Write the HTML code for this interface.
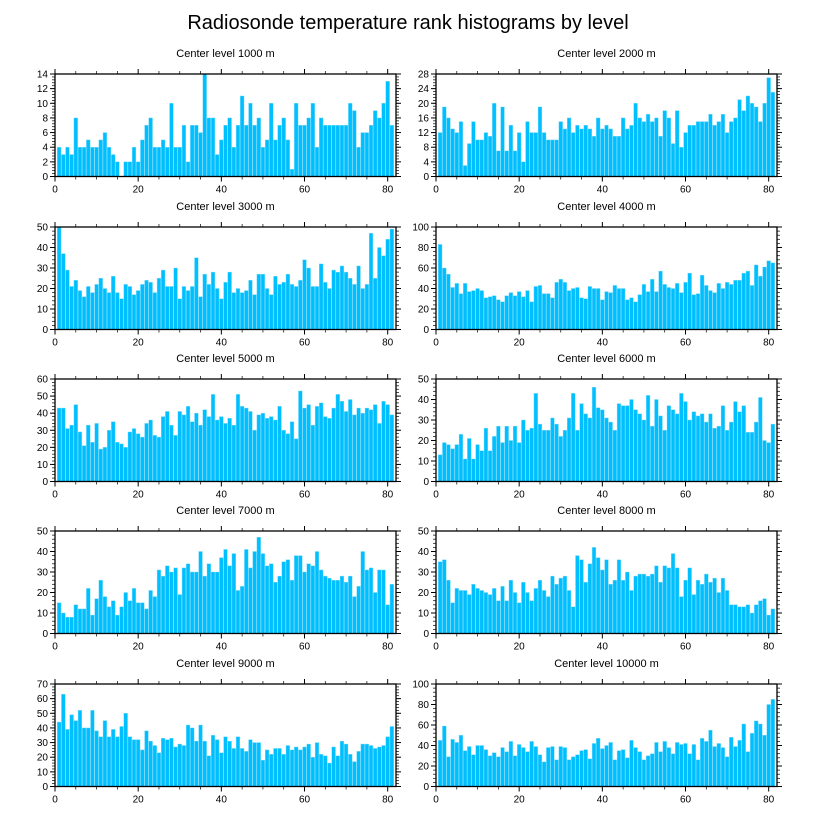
<!DOCTYPE html>
<html><head><meta charset="utf-8"><style>
html,body{margin:0;padding:0;background:#fff;}
svg{display:block;font-family:"Liberation Sans",Arial,sans-serif;}
</style></head><body>
<svg id="c" width="816" height="824" viewBox="0 0 816 824">
<text x="408" y="29" text-anchor="middle" font-size="20">Radiosonde temperature rank histograms by level</text>
</svg>
<script>
const levels = ["1000","2000","3000","4000","5000","6000","7000","8000","9000","10000"];
const yMaxes = [14,28,50,100,60,50,50,50,70,100];
const ySteps = [2,4,10,20,10,10,10,10,10,20];
const xTicks = [0,20,40,60,80];
const v1000 = [4,3,4,3,8,4,4,5,4,4,5,6,4,3,2,0,2,2,4,2,5,7,8,4,4,5,4,10,4,4,7,2,7,7,6,14,8,8,3,5,7,8,4,7,11,7,10,7,8,4,5,10,5,7,8,5,1,10,7,7,8,10,4,8,7,7,7,7,7,7,10,9,4,6,6,7,9,8,10,13,7];
const v2000 = [12,19,16,13,12,15,3,9,15,10,10,12,11,20,7,19,7,14,7,12,4,15,12,12,19,12,10,10,10,15,13,16,12,14,13,14,13,11,16,13,14,13,11,11,16,13,14,20,16,15,17,15,16,11,18,16,9,18,8,12,14,14,15,15,15,17,14,15,17,12,15,16,21,18,22,20,19,15,20,27,23];
const v3000 = [50,37,29,21,24,19,16,21,18,22,25,20,18,26,18,15,22,21,17,19,22,24,23,18,25,29,21,21,30,15,21,19,21,35,16,27,22,28,20,15,23,28,18,20,18,19,24,17,27,27,20,17,26,22,23,27,22,21,24,34,30,21,21,32,23,20,29,28,31,28,25,22,31,20,22,47,25,40,36,44,49];
const v4000 = [83,60,54,41,45,35,45,37,38,40,38,31,32,33,29,27,33,36,33,37,32,38,27,42,43,35,35,31,46,49,46,38,40,41,31,30,42,40,40,29,37,36,43,40,40,29,31,27,34,44,37,49,37,57,44,41,40,45,36,46,55,34,35,53,43,38,36,45,40,46,44,48,48,55,57,43,63,52,61,67,65];
const v5000 = [43,43,31,33,45,29,21,33,23,34,19,20,30,35,23,22,20,29,31,28,26,34,36,27,26,38,41,33,27,41,39,44,35,40,33,42,38,51,36,38,34,37,33,51,44,43,41,30,39,40,37,38,36,44,30,28,35,25,53,43,45,33,44,46,38,37,43,51,47,41,48,39,43,40,43,42,45,34,47,45,39];
const v6000 = [13,19,18,16,18,23,11,21,11,18,15,26,15,22,27,19,27,20,27,19,30,25,26,43,28,25,25,31,28,22,25,31,43,25,38,33,31,46,36,35,31,29,25,38,37,37,40,35,33,30,42,27,40,32,25,37,35,33,43,39,30,34,32,33,29,33,26,27,37,25,29,39,34,37,24,24,29,41,20,19,28];
const v7000 = [15,10,8,8,14,12,12,22,9,17,26,18,13,16,9,13,20,16,22,15,15,12,21,18,31,28,33,30,32,19,32,34,30,30,40,28,34,30,30,37,41,33,39,21,23,41,32,40,47,39,33,34,25,28,35,36,26,38,38,30,34,33,40,31,28,27,26,26,28,25,28,18,23,40,31,32,20,31,31,14,24];
const v8000 = [35,36,26,15,22,21,21,19,24,22,21,20,19,22,16,23,16,26,20,15,25,20,16,22,26,21,18,28,24,27,28,21,13,38,36,25,34,42,37,31,36,24,26,36,26,30,21,28,29,29,28,29,33,25,33,32,39,32,18,26,32,19,26,24,29,25,27,20,27,21,14,14,13,13,14,10,14,16,17,9,12];
const v9000 = [44,63,39,49,45,52,40,40,52,38,34,45,34,39,34,41,50,34,32,32,25,38,31,28,23,33,32,33,27,29,28,42,40,31,42,31,21,35,32,23,34,31,26,34,26,24,32,30,30,18,25,22,26,26,22,28,25,27,25,27,29,20,30,22,21,16,27,21,31,29,22,17,24,29,29,28,26,27,28,34,41];
const v10000 = [45,59,29,46,43,50,35,39,31,40,40,36,30,33,29,38,34,44,30,41,38,34,44,39,31,24,38,39,26,39,38,26,29,31,35,36,27,42,47,37,40,43,26,35,36,28,45,38,34,26,30,32,43,34,44,38,32,43,41,42,32,41,26,47,44,55,39,42,38,29,48,39,45,61,34,52,64,61,50,80,85];
const allValues = [v1000,v2000,v3000,v4000,v5000,v6000,v7000,v8000,v9000,v10000];

const NS = "http://www.w3.org/2000/svg";
const svg = document.getElementById('c');
function mk(tag, attrs, parent){ const e=document.createElementNS(NS,tag); for(const k in attrs) e.setAttribute(k,attrs[k]); parent.appendChild(e); return e; }

const colX = [55, 436], W = 341, H = 102.5;
const rowY = [74, 227, 379, 531, 684];
const XMIN = 0, XMAX = 82;

allValues.forEach((vals, p) => {
  const col = p % 2, row = Math.floor(p / 2);
  const x0 = colX[col], y0 = rowY[row];
  const ymax = yMaxes[p], ystep = ySteps[p];
  const sx = v => x0 + (v - XMIN) / (XMAX - XMIN) * W;
  const sy = v => y0 + H - v / ymax * H;
  const g = mk('g', {}, svg);
  
  
  const t = mk('text', {x: x0 + W/2, y: y0 - 17, 'text-anchor':'middle', 'font-size':'11'}, g);
  t.textContent = 'Center level ' + levels[p] + ' m';
  
  
  vals.forEach((v, i) => {
    const xc = i + 1;
    const r = mk('rect', {x: sx(xc - 0.45), y: sy(v), width: sx(xc + 0.45) - sx(xc - 0.45), height: sy(0) - sy(v), fill:'#00bfff', stroke:'#7fdcff', 'stroke-width':'0.4'}, g);
    
    
  });
  // y ticks
  for (let v = 0; v <= ymax + 1e-9; v += ystep) {
    const y = sy(v);
    mk('line', {x1: x0 - 5, x2: x0, y1: y, y2: y, stroke:'#000', 'stroke-width':'1'}, g);
    mk('line', {x1: x0 + W, x2: x0 + W + 5, y1: y, y2: y, stroke:'#000', 'stroke-width':'1'}, g);
    const lb = mk('text', {x: x0 - 7, y: y + 3.5, 'text-anchor':'end', 'font-size':'10'}, g);
    lb.textContent = String(v);
    
    
  }
  for (let v = ystep/5; v < ymax; v += ystep/5) {
    const y = sy(v);
    mk('line', {x1: x0 - 3, x2: x0, y1: y, y2: y, stroke:'#000', 'stroke-width':'0.7'}, g);
    mk('line', {x1: x0 + W, x2: x0 + W + 3, y1: y, y2: y, stroke:'#000', 'stroke-width':'0.7'}, g);
  }
  // x ticks
  for (let v = 0; v <= 80; v += 5) {
    const x = sx(v), major = v % 20 === 0, L = major ? 5 : 3;
    mk('line', {x1: x, x2: x, y1: y0 + H, y2: y0 + H + L, stroke:'#000', 'stroke-width': major ? '1' : '0.7'}, g);
    mk('line', {x1: x, x2: x, y1: y0 - L, y2: y0, stroke:'#000', 'stroke-width': major ? '1' : '0.7'}, g);
  }
  xTicks.forEach(v => {
    const lb = mk('text', {x: sx(v), y: y0 + H + 16, 'text-anchor':'middle', 'font-size':'10'}, g);
    lb.textContent = String(v);
    
    
  });
  const fr = mk('rect', {x: x0, y: y0, width: W, height: H, fill:'none', stroke:'#000', 'stroke-width':'1.3'}, g);
  
  
});
</script>
</body></html>
